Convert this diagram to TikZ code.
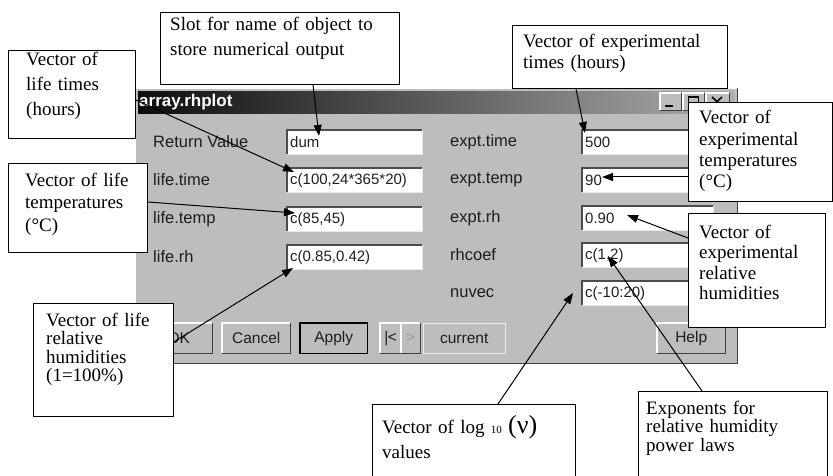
\documentclass[tikz,border=0pt]{standalone}
\usepackage{fontspec}
\setmainfont{Liberation Serif}
\setsansfont{Liberation Sans}
\usetikzlibrary{arrows.meta,calc}
\definecolor{winface}{HTML}{BDBDBD}
\definecolor{winlight}{HTML}{E8E8E8}
\definecolor{winshadow}{HTML}{7A7A7A}
\definecolor{uitext}{HTML}{1E1E1E}
% bevelled edges for dialog widgets
\newcommand\sunkenedge[1]{%
  \draw[line width=2pt, black!70] (#1.south west) |- (#1.north east);
  \draw[line width=1pt, winlight] (#1.south west) -| (#1.north east);}
\newcommand\raisededge[1]{%
  \draw[line width=1.2pt, white] (#1.south west) |- (#1.north east);
  \draw[line width=1.6pt, black!75] (#1.south west) -| (#1.north east);}
\begin{document}
\begin{tikzpicture}[x=1pt,y=-1pt,
  ui/.style={font=\fontsize{15.5}{18}\sffamily, text=uitext},
  uilabel/.style={font=\fontsize{16.5}{18}\sffamily, text=uitext, anchor=west, inner sep=0pt},
  field/.style={font=\fontsize{15}{18}\sffamily, text=uitext, anchor=north west, fill=white,
    inner xsep=3pt, inner ysep=0pt, minimum height=24pt, text width=#1, align=left},
  uibutton/.style={ui, anchor=north west, fill=winface, inner sep=0pt,
    minimum height=30pt, minimum width=#1},
  callout/.style={draw=black, line width=0.8pt, fill=white, anchor=north west, inner sep=0pt},
  note/.style={font=\fontsize{19}{#1}\selectfont, anchor=base west, inner sep=0pt,
    text width=240pt, align=left},
  pointer/.style={draw=black, line width=1pt, -{Triangle[length=11pt,width=8pt]}},
]
\useasboundingbox (0,0) rectangle (833,476);
\fill[white] (0,0) rectangle (833,476);

% ---- dialog window ----
\node[anchor=north west, fill=winface, minimum width=602pt, minimum height=275pt, inner sep=0pt] (win) at (135,88) {};
\raisededge{win}
\node[anchor=north west, minimum width=596pt, minimum height=22pt, inner sep=0pt,
  left color=black!95, middle color=black!62, right color=black!32] (titlebar) at (138,91) {};
\node[anchor=west, text=white, font=\fontsize{17}{20}\sffamily\bfseries, inner sep=0pt] (title) at (139,102) {array.rhplot};

% title bar buttons
\node[uibutton=21pt, minimum height=17pt] (tbmin) at (660,93) {};
\raisededge{tbmin}
\draw[line width=2pt] (665,106) -- (673,106);
\node[uibutton=21pt, minimum height=17pt] (tbmax) at (683,93) {};
\raisededge{tbmax}
\draw[line width=1pt] (688,97) rectangle (698,106);
\draw[line width=2pt] (688,97.5) -- (698,97.5);
\node[uibutton=23pt, minimum height=17pt] (tbclose) at (706,93) {};
\raisededge{tbclose}
\draw[line width=1.6pt] (712,97) -- (722,106) (712,106) -- (722,97);

% left column
\node[uilabel] (lRet) at (153,142) {Return Value};
\node[uilabel] (lLt) at (153,180) {life.time};
\node[uilabel] (lLtemp) at (153,219) {life.temp};
\node[uilabel] (lLrh) at (153,257) {life.rh};
\node[field=129pt] (fRet) at (287,130) {dum};
\node[field=129pt] (fLt) at (287,168) {c(100,24*365*20)};
\node[field=129pt] (fLtemp) at (287,207) {c(85,45)};
\node[field=129pt] (fLrh) at (287,245) {c(0.85,0.42)};
\sunkenedge{fRet}\sunkenedge{fLt}\sunkenedge{fLtemp}\sunkenedge{fLrh}

% right column
\node[uilabel] (lEt) at (450,142) {expt.time};
\node[uilabel] (lEtemp) at (450,180) {expt.temp};
\node[uilabel] (lErh) at (450,218) {expt.rh};
\node[uilabel] (lRhc) at (450,255) {rhcoef};
\node[uilabel] (lNu) at (450,293) {nuvec};
\node[field=125pt] (fEt) at (582,130) {500};
\node[field=125pt] (fEtemp) at (582,168) {90};
\node[field=125pt] (fErh) at (582,206) {0.90};
\node[field=125pt] (fRhc) at (582,243) {c(1,2)};
\node[field=125pt] (fNu) at (582,281) {c(-10:20)};
\sunkenedge{fEt}\sunkenedge{fEtemp}\sunkenedge{fErh}\sunkenedge{fRhc}\sunkenedge{fNu}

% button row
\node[uibutton=67pt] (bOK) at (145,323) {OK};
\node[uibutton=68pt] (bCancel) at (222,323) {Cancel};
\node[uibutton=67pt] (bApply) at (300,323) {Apply};
\node[uibutton=21pt] (bFirst) at (380,323) {|\kern-0.5pt<};
\node[uibutton=19pt, text=black!40] (bNext) at (401,323) {>};
\node[uibutton=82pt] (bCur) at (423,323) {current};
\node[uibutton=68pt] (bHelp) at (657,323) {Help};
\raisededge{bOK}\raisededge{bCancel}\raisededge{bApply}\raisededge{bFirst}\raisededge{bNext}\raisededge{bHelp}
\draw[line width=1.2pt, black] (bApply.north west) rectangle (bApply.south east);
\draw[line width=1pt, white!92!black] (bCur.north west) rectangle (bCur.south east);

% ---- callout boxes ----
\node[callout, minimum width=239pt, minimum height=72pt] (b1) at (160,12) {};
\node[callout, minimum width=127pt, minimum height=88pt] (b2) at (8,50) {};
\node[callout, minimum width=139pt, minimum height=89pt] (b3) at (8,163) {};
\node[callout, minimum width=140pt, minimum height=113pt] (b4) at (33,303) {};
\node[callout, minimum width=215pt, minimum height=63pt] (b5) at (512,25) {};
\node[callout, minimum width=144pt, minimum height=99pt] (b6) at (688,102) {};
\node[callout, minimum width=137pt, minimum height=114pt] (b7) at (688,213) {};
\node[callout, minimum width=203pt, minimum height=100pt] (b8) at (372,404) {};
\node[callout, minimum width=189pt, minimum height=100pt] (b9) at (638,391) {};

\node[note=25] (t1) at (170,31) {Slot for name of object to\\store numerical output};
\node[note=25] (t2) at (26,66) {Vector of\\life times\\(hours)};
\node[note=22.5] (t3) at (25,186) {Vector of life\\temperatures\\(°C)};
\node[note=18.5] (t4) at (46,326) {Vector of life\\relative\\humidities\\(1=100\%)};
\node[note=21] (t5) at (523,48) {Vector of experimental\\times (hours)};
\node[note=21.3] (t6) at (699,124) {Vector of\\experimental\\temperatures\\(°C)};
\node[note=20.5] (t7) at (699,238) {Vector of\\experimental\\relative\\humidities};
\node[note=25] (t8) at (382,433) {Vector of log {\fontsize{11}{12}\selectfont 10} {\fontsize{26}{25}\selectfont(ν)}\\values};
\node[note=18.5] (t9) at (646,414) {Exponents for\\relative humidity\\power laws};

% ---- pointers ----
\coordinate (p1) at (319,136);
\coordinate (p2) at (294,172);
\coordinate (p3) at (295,213);
\coordinate (p4) at (293,268);
\coordinate (p5) at (585,133);
\coordinate (p6) at (602,177);
\coordinate (p7) at (627,215);
\coordinate (p8) at (573,293);
\coordinate (p9) at (608,256);
\draw[pointer] ($(b1.south west)+(153,0)$) -- (p1);
\draw[pointer] ($(b2.north east)+(0,50)$) -- (p2);
\draw[pointer] ($(b3.north east)+(0,39)$) -- (p3);
\draw[pointer] ($(b4.north east)+(0,39)$) -- (p4);
\draw[pointer] ($(b5.south west)+(64,0)$) -- (p5);
\draw[pointer] ($(b6.north west)+(0,75)$) -- (p6);
\draw[pointer] ($(b7.north west)+(0,25)$) -- (p7);
\draw[pointer] ($(b8.north west)+(126,0)$) -- (p8);
\draw[pointer] ($(b9.north west)+(64,0)$) -- (p9);
\end{tikzpicture}
\end{document}
